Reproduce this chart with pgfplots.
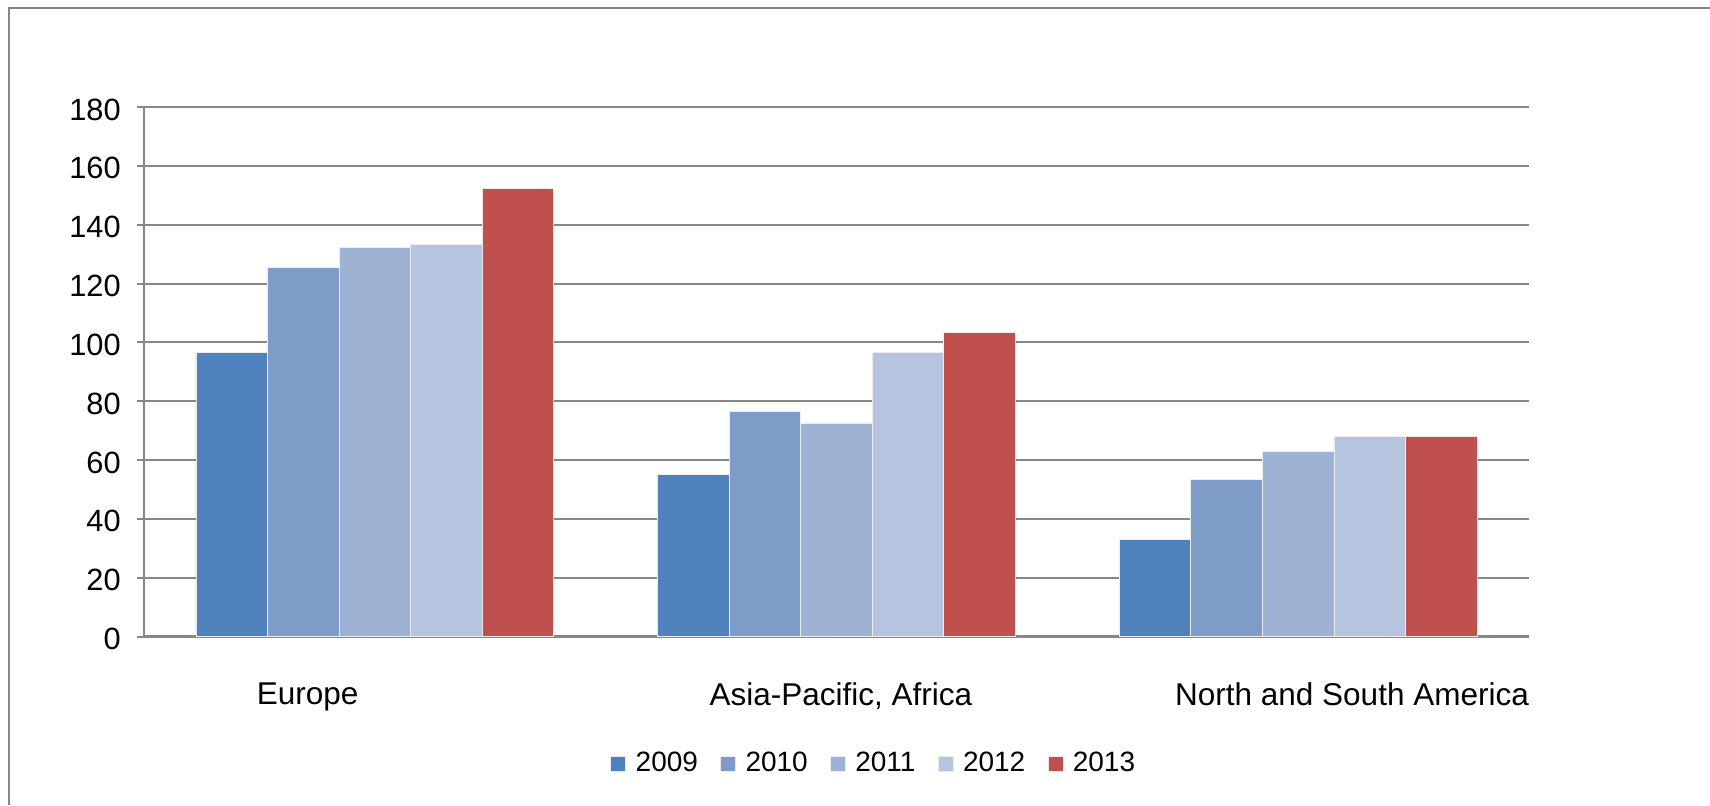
\documentclass[border=0pt]{standalone}
\usepackage{pgfplots}
\pgfplotsset{compat=1.18}
\usepackage{fontspec}
\setmainfont{Liberation Sans}
\definecolor{c09}{HTML}{4F81BD}
\definecolor{c10}{HTML}{7F9CC8}
\definecolor{c11}{HTML}{9EB2D4}
\definecolor{c12}{HTML}{B5C4DF}
\definecolor{c13}{HTML}{C0504D}
\definecolor{gridg}{HTML}{878787}
\begin{document}
\begin{tikzpicture}
\useasboundingbox (0,0) rectangle (684pt,322pt);
\draw[gridg, line width=0.9pt] (3.6pt,0pt) -- (3.6pt,318.8pt) -- (684pt,318.8pt);
\begin{axis}[
  at={(57.6pt,67.4pt)}, anchor=south west,
  scale only axis, width=554pt, height=211.8pt,
  ybar=0pt, bar width=0.155,
  xmin=-0.5, xmax=2.5, ymin=0, ymax=180,
  ytick={0,20,...,180},
  xtick={-0.1456,1.0097,2.1166},
  xticklabels={Europe, {Asia-Pacific, Africa}, North and South America},
  x tick style={draw=none},
  y tick style={gridg, line width=0.8pt},
  tick align=outside, major tick length=2.8pt,
  ymajorgrids, grid style={gridg, line width=0.8pt},
  axis x line*=bottom, axis y line*=left,
  separate axis lines,
  axis line style={gridg, line width=1.1pt, -},
  yticklabel style={font=\fontsize{12.3}{14}\selectfont, xshift=-3pt, yshift=-1pt},
  xticklabel style={font=\fontsize{12.6}{14}\selectfont, yshift=-12pt},
  /pgf/number format/assume math mode=true,
  legend columns=5,
  legend style={at={(0.5280,-0.2408)}, anchor=center, draw=none, fill=none,
    font=\fontsize{11.2}{13}\selectfont,
    /tikz/every odd column/.append style={column sep=1.8pt},
    /tikz/every even column/.append style={column sep=6.9pt}},
  legend image code/.code={\fill[#1] (0pt,-3pt) rectangle (6pt,3pt);},
  every axis plot/.append style={draw=white!85!gray, line width=0.3pt},
]
\addplot[fill=c09] coordinates {(0,96.7) (1,55.2) (2,33.1)};
\addplot[fill=c10] coordinates {(0,125.6) (1,76.4) (2,53.4)};
\addplot[fill=c11] coordinates {(0,132.3) (1,72.6) (2,62.9)};
\addplot[fill=c12] coordinates {(0,133.3) (1,96.7) (2,67.9)};
\addplot[fill=c13] coordinates {(0,152.4) (1,103.4) (2,67.9)};
\legend{2009,2010,2011,2012,2013}
\end{axis}
\end{tikzpicture}
\end{document}
